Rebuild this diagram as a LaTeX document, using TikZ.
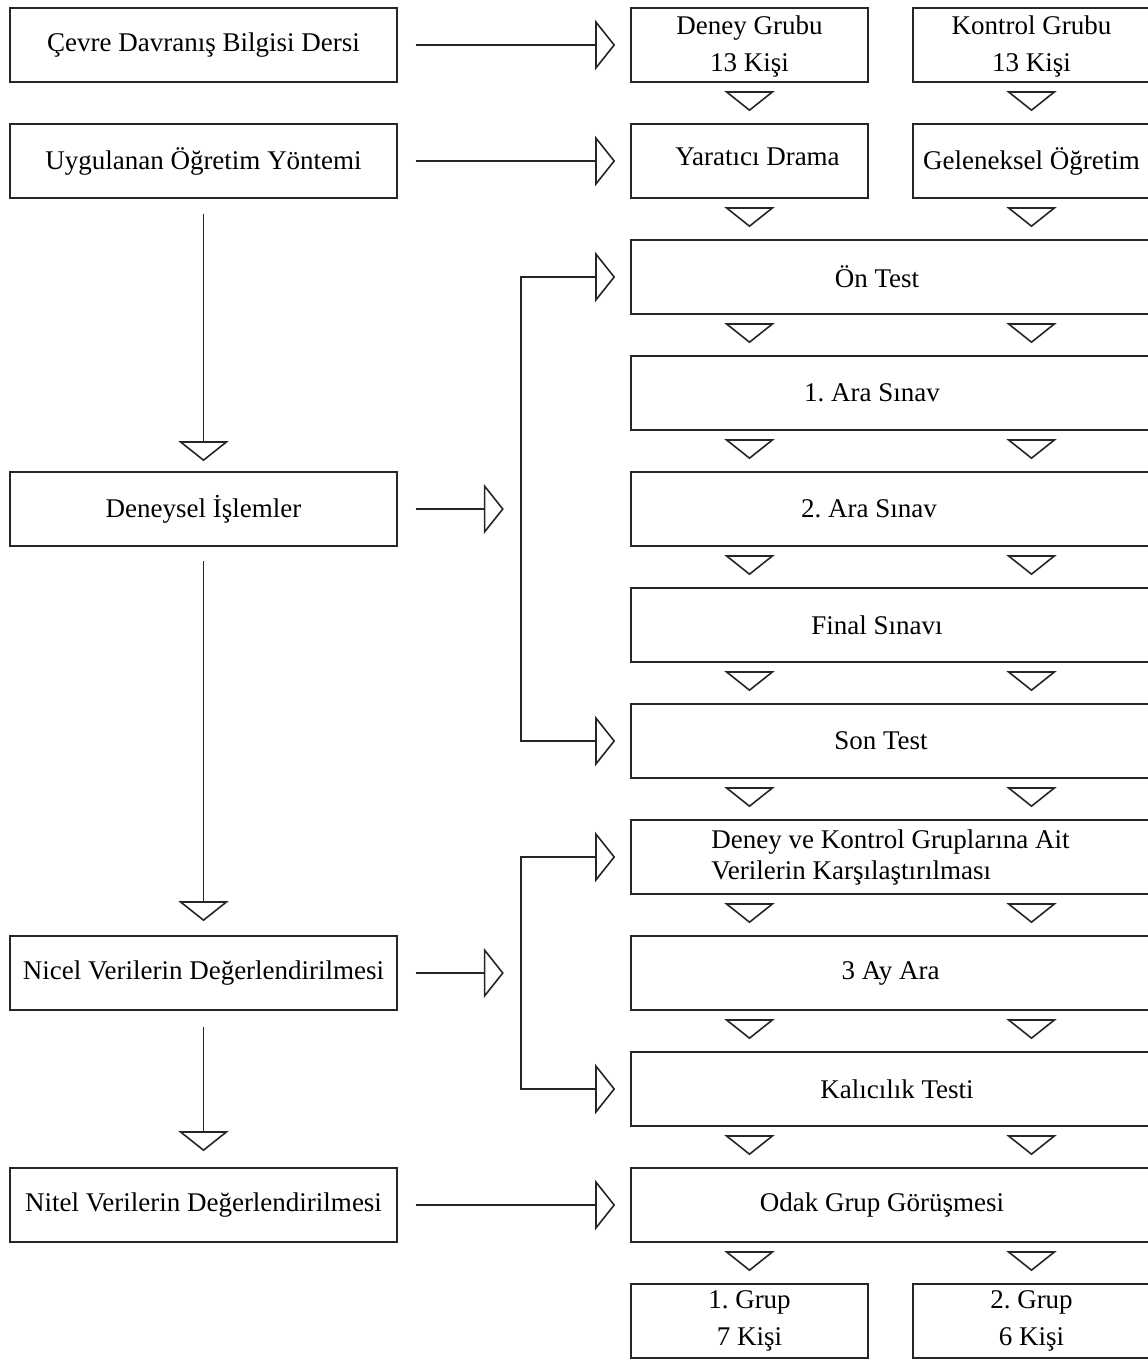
\documentclass[tikz,border=0pt]{standalone}
\usepackage{fontspec}
\setmainfont{Liberation Serif}
\usetikzlibrary{arrows.meta,calc}
\definecolor{ln}{gray}{0.15}
\frenchspacing
\begin{document}
\begin{tikzpicture}[x=1pt,y=-1pt,
  every node/.style={font=\fontsize{27}{37}\selectfont, text=black},
  box/.style={draw=ln, line width=1.6pt, minimum height=74pt, inner sep=0pt, align=center},
  lbox/.style={box, minimum width=387pt},
  cbox/.style={box, minimum width=237pt},
  wbox/.style={box, minimum width=519pt},
  tri/.style={-{Triangle[open,length=20pt,width=50pt]}, line width=1.6pt, draw=ln},
  bitri/.style={{Triangle[open,length=20pt,width=50pt]}-{Triangle[open,length=20pt,width=50pt]}, line width=1.6pt, draw=ln},
]
\useasboundingbox (0,0) rectangle (1148,1361);
\clip (0,0) rectangle (1148,1361);

% left column
\node[lbox] (L1) at (203.5,45) {Çevre Davranış Bilgisi Dersi};
\node[lbox] (L2) at (203.5,161) {Uygulanan Öğretim Yöntemi};
\node[lbox] (L3) at (203.5,509) {Deneysel İşlemler};
\node[lbox] (L4) at (203.5,973) {Nicel Verilerin Değerlendirilmesi};
\node[lbox] (L5) at (203.5,1205) {Nitel Verilerin Değerlendirilmesi};

% right columns
\node[cbox, label={[align=center,yshift=-2pt]center:Deney Grubu\\13 Kişi}] (R0a) at (749.5,45) {};
\node[cbox, label={[align=center,yshift=-2pt]center:Kontrol Grubu\\13 Kişi}] (R0b) at (1031.5,45) {};
\node[cbox, label={[xshift=8pt,yshift=4pt]center:Yaratıcı Drama}] (R1a) at (749.5,161) {};
\node[cbox] (R1b) at (1031.5,161) {Geleneksel Öğretim};

\node[wbox, label={[xshift=-13.5pt]center:Ön Test}] (W2) at (890.5,277) {};
\node[wbox, label={[xshift=-18.5pt]center:1. Ara Sınav}] (W3) at (890.5,393) {};
\node[wbox, label={[xshift=-21.5pt]center:2. Ara Sınav}] (W4) at (890.5,509) {};
\node[wbox, label={[xshift=-13.5pt]center:Final Sınavı}] (W5) at (890.5,625) {};
\node[wbox, label={[xshift=-9.5pt]center:Son Test}] (W6) at (890.5,741) {};
\node[wbox, label={[align=left,xshift=0pt,font=\fontsize{27}{31}\selectfont]center:Deney ve Kontrol Gruplarına Ait\\Verilerin Karşılaştırılması}] (W7) at (890.5,857) {};
\node[wbox, label={[xshift=0pt]center:3 Ay Ara}] (W8) at (890.5,973) {};
\node[wbox, label={[xshift=6.5pt]center:Kalıcılık Testi}] (W9) at (890.5,1089) {};
\node[wbox, label={[xshift=-8.5pt]center:Odak Grup Görüşmesi}] (W10) at (890.5,1205) {};

\node[cbox] (R11a) at (749.5,1321) {1. Grup\\7 Kişi};
\node[cbox] (R11b) at (1031.5,1321) {2. Grup\\6 Kişi};

% down triangles between right rows
\foreach \u/\v in {R0a/R1a,R1a/W2,W2/W3,W3/W4,W4/W5,W5/W6,W6/W7,W7/W8,W8/W9,W9/W10,W10/R11a}{
  \draw[tri] ($(\u.south -| R0a)+(0,10)$) -- ($(\v.north -| R0a)+(0,-12)$);
}
\foreach \u/\v in {R0b/R1b,R1b/W2,W2/W3,W3/W4,W4/W5,W5/W6,W6/W7,W7/W8,W8/W9,W9/W10,W10/R11b}{
  \draw[tri] ($(\u.south -| R0b)+(0,10)$) -- ($(\v.north -| R0b)+(0,-12)$);
}

% horizontal arrows
\draw[tri] ($(L1.east)+(18,0)$) -- ($(R0a.west)+(-15,0)$);
\draw[tri] ($(L2.east)+(18,0)$) -- ($(R1a.west)+(-15,0)$);
\draw[tri] ($(L5.east)+(18,0)$) -- ($(W10.west)+(-15,0)$);
\draw[tri] ($(L3.east)+(18,0)$) -- ++(88,0);
\draw[tri] ($(L4.east)+(18,0)$) -- ++(88,0);

% brackets
\coordinate (sp) at (521,0);
\draw[bitri] ($(W2.west)+(-15,0)$) -- (W2.west -| sp) -- (W6.west -| sp) -- ($(W6.west)+(-15,0)$);
\draw[bitri] ($(W7.west)+(-15,0)$) -- (W7.west -| sp) -- (W9.west -| sp) -- ($(W9.west)+(-15,0)$);

% left vertical arrows
\draw[tri] ($(L2.south)+(0,15)$) -- ($(L3.north)+(0,-10)$);
\draw[tri] ($(L3.south)+(0,14)$) -- ($(L4.north)+(0,-14)$);
\draw[tri] ($(L4.south)+(0,16)$) -- ($(L5.north)+(0,-16)$);
\end{tikzpicture}
\end{document}
